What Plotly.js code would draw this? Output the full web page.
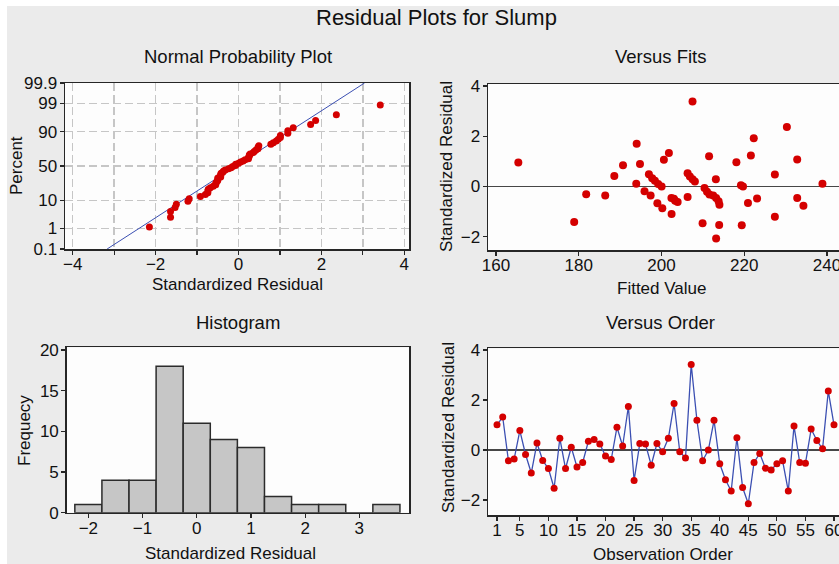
<!DOCTYPE html>
<html>
<head>
<meta charset="utf-8">
<script src="https://cdn.plot.ly/plotly-3.0.1.min.js"></script>
<style>html,body{margin:0;padding:0;overflow:hidden;background:#fff}#chart{width:839px;height:564px}</style>
</head>
<body>
<div id="chart"></div>
<script>
// ---- data ----
const observation = [1,2,3,4,5,6,7,8,9,10,11,12,13,14,15,16,17,18,19,20,
  21,22,23,24,25,26,27,28,29,30,31,32,33,34,35,36,37,38,39,40,
  41,42,43,44,45,46,47,48,49,50,51,52,53,54,55,56,57,58,59,60];
const residuals = [1.01,1.32,-0.43,-0.36,0.78,-0.18,-0.92,0.28,-0.42,-0.74,
  -1.53,0.47,-0.74,0.11,-0.68,-0.50,0.35,0.42,0.24,-0.24,
  -0.38,0.91,0.16,1.74,-1.22,0.26,0.24,-0.61,0.26,-0.07,
  0.47,1.86,-0.07,-0.32,3.42,1.19,-0.43,0.00,1.19,-0.55,
  -1.19,-1.64,0.49,-1.50,-2.15,-0.50,-0.14,-0.73,-0.80,-0.55,
  -0.43,-1.64,0.96,-0.50,-0.53,0.84,0.38,0.05,2.36,1.01];
const fittedValue = [165.4,178.9,181.8,186.4,188.6,190.7,194.0,193.9,194.8,195.9,
  196.96,197.75,198.41,199.2,200.03,197.37,199.0,200.2,200.58,201.79,
  202.44,202.4,203.0,203.3,203.9,206.31,206.31,206.86,207.51,208.07,
  211.5,210.4,211.0,211.6,212.5,213.2,213.8,214.0,213.14,209.93,
  213.94,218.1,219.2,219.7,207.5,213.2,219.4,220.9,221.6,222.3,
  223.1,227.4,227.4,230.3,232.8,232.8,234.3,238.9];
const fittedResidual = [0.95,-1.42,-0.31,-0.36,0.42,0.84,1.70,0.11,0.89,-0.19,
  0.49,0.33,0.23,0.10,0.00,-0.36,-0.67,-0.87,1.06,1.33,
  -1.10,-0.46,-0.49,-0.57,-0.62,-0.42,0.53,0.40,0.29,0.20,
  1.20,-0.06,-0.21,-0.32,-0.36,-0.46,-0.59,-0.73,0.29,-1.46,
  -1.53,0.96,0.05,0.00,3.38,-2.07,-1.54,-0.66,1.23,1.92,
  -0.48,0.48,-1.21,2.37,1.07,-0.46,-0.77,0.11];
const binCenters = [-2,-1.5,-1,-0.5,0,0.5,1,1.5,2,2.5,3,3.5];
const binCounts  = [1,4,4,18,11,9,8,2,1,1,0,1];
const nppFitX   = [-3.17, 3.04];
const nppFitPct = [0.1, 99.9];
const pctTicks    = [0.1,1,10,50,90,99,99.9];
const pctTickText = ['0.1','1','10','50','90','99','99.9'];
const nppXTicks    = [-4,-3,-2,-1,0,1,2,3,4];
const nppXTickText = ['\u22124','','\u22122','','0','','2','','4'];
const obsTicks = [1,5,10,15,20,25,30,35,40,45,50,55,60];

// ---- probability scale (inverse normal CDF, Acklam) ----
function probit(p){
  const a=[-3.969683028665376e+01,2.209460984245205e+02,-2.759285104469687e+02,1.383577518672690e+02,-3.066479806614716e+01,2.506628277459239e+00];
  const b=[-5.447609879822406e+01,1.615858368580409e+02,-1.556989798598866e+02,6.680131188771972e+01,-1.328068155288572e+01];
  const c=[-7.784894002430293e-03,-3.223964580411365e-01,-2.400758277161838e+00,-2.549732539343734e+00,4.374664141464968e+00,2.938163982698783e+00];
  const d=[7.784695709041462e-03,3.224671290700398e-01,2.445134137142996e+00,3.754408661907416e+00];
  const pl=0.02425, ph=1-pl; let q,r;
  if(p<pl){q=Math.sqrt(-2*Math.log(p));return (((((c[0]*q+c[1])*q+c[2])*q+c[3])*q+c[4])*q+c[5])/((((d[0]*q+d[1])*q+d[2])*q+d[3])*q+1);}
  if(p<=ph){q=p-0.5;r=q*q;return (((((a[0]*r+a[1])*r+a[2])*r+a[3])*r+a[4])*r+a[5])*q/(((((b[0]*r+b[1])*r+b[2])*r+b[3])*r+b[4])*r+1);}
  q=Math.sqrt(-2*Math.log(1-p));return -(((((c[0]*q+c[1])*q+c[2])*q+c[3])*q+c[4])*q+c[5])/((((d[0]*q+d[1])*q+d[2])*q+d[3])*q+1);
}
const pz = v => probit(v/100);
// normal probability plot points: sorted residuals vs median-rank percent
const nppX = residuals.slice().sort((a,b)=>a-b);
const n = nppX.length;
const nppZ = nppX.map((v,i)=>probit((i+1-0.3)/(n+0.4)));

// ---- layout helpers ----
const W=839, H=564;
const px = x => x/W, py = y => 1 - y/H;
const RED='#d40000', BLUE='#3b4fb2', FONT='"Liberation Sans", Arial, sans-serif';

const axBase = {
  showline:true, linecolor:'#262626', linewidth:1.5, ticks:'outside', ticklen:4,
  tickwidth:1.2, tickcolor:'#262626', showgrid:false, zeroline:false,
  ticklabeloverflow:'allow',
  tickfont:{family:FONT,size:17,color:'#111'}, fixedrange:true
};
const xBase = Object.assign({}, axBase, {ticklabelstandoff:-5});
const yBase = Object.assign({}, axBase, {ticklabelstandoff:-1});
const gridDash = {showgrid:true, gridcolor:'#c6c6c6', gridwidth:1.5, griddash:'8px,4px'};

const traces = [
  {type:'scatter', mode:'lines', x:nppFitX, y:nppFitPct.map(pz), xaxis:'x', yaxis:'y',
   line:{color:BLUE,width:1}, hoverinfo:'skip'},
  {type:'scatter', mode:'markers', x:nppX, y:nppZ, xaxis:'x', yaxis:'y',
   marker:{color:RED,size:7,symbol:'circle'}},
  {type:'scatter', mode:'markers', x:fittedValue, y:fittedResidual, xaxis:'x2', yaxis:'y2',
   marker:{color:RED,size:8,symbol:'circle'}},
  {type:'bar', x:binCenters, y:binCounts, width:0.5, xaxis:'x3', yaxis:'y3',
   marker:{color:'#c6c6c6', line:{color:'#2b2b2b', width:1.5}}},
  {type:'scatter', mode:'lines+markers', x:observation, y:residuals, xaxis:'x4', yaxis:'y4',
   line:{color:BLUE,width:1.3}, marker:{color:RED,size:7,symbol:'circle'}}
];

function ann(text,x,y,size,rot){
  return {text:text, x:px(x), y:py(y), xref:'paper', yref:'paper', showarrow:false,
    xanchor:'center', yanchor:'middle', textangle:rot||0,
    font:{family:FONT,size:size,color:'#111'}};
}

const layout = {
  width:W, height:H, margin:{l:0,r:0,t:0,b:0},
  paper_bgcolor:'#ebebeb', plot_bgcolor:'#fdfdfd', showlegend:false,
  font:{family:FONT,color:'#111'},
  xaxis: Object.assign({}, xBase, gridDash, {domain:[px(65),px(409)], range:[-4.186,4.113],
    tickvals:nppXTicks, ticktext:nppXTickText, mirror:true, anchor:'y'}),
  yaxis: Object.assign({}, yBase, gridDash, {domain:[py(249),py(83)], range:[pz(0.1),pz(99.9)],
    tickvals:pctTicks.map(pz), ticktext:pctTickText, mirror:true, anchor:'x'}),
  xaxis2: Object.assign({}, xBase, {domain:[px(488),1], range:[158.07,242.9],
    tickvals:[160,180,200,220,240], mirror:true, anchor:'y2'}),
  yaxis2: Object.assign({}, yBase, {domain:[py(250),py(84)], range:[-2.53,4.08],
    tickvals:[-2,0,2,4], ticktext:['\u22122','0','2','4'], mirror:false, anchor:'x2',
    zeroline:true, zerolinecolor:'#474747', zerolinewidth:1.5}),
  xaxis3: Object.assign({}, xBase, {domain:[px(66.7),px(409)], range:[-2.40,3.917],
    tickvals:[-2,-1,0,1,2,3], ticktext:['\u22122','\u22121','0','1','2','3'], mirror:true, anchor:'y3'}),
  yaxis3: Object.assign({}, yBase, {domain:[py(512.7),py(347.3)], range:[0,20.33],
    tickvals:[0,5,10,15,20], mirror:true, anchor:'x3'}),
  xaxis4: Object.assign({}, xBase, {domain:[px(488),1], range:[-0.576,60.875],
    tickvals:obsTicks, mirror:true, anchor:'y4'}),
  yaxis4: Object.assign({}, yBase, {domain:[py(515),py(348.3)], range:[-2.6,4.07],
    tickvals:[-2,0,2,4], ticktext:['\u22122','0','2','4'], mirror:false, anchor:'x4',
    zeroline:true, zerolinecolor:'#474747', zerolinewidth:1.5}),
  annotations: [
    ann('Residual Plots for Slump',436,18,22),
    ann('Normal Probability Plot',238,56,18.5),
    ann('Versus Fits',661,56,18.5),
    ann('Histogram',238,322,18.5),
    ann('Versus Order',660,322,18.5),
    ann('Standardized Residual',237,284,17),
    ann('Percent',16,166,17,-90),
    ann('Fitted Value',661,288,17),
    ann('Standardized Residual',446,167,17,-90),
    ann('Standardized Residual',230,553,17),
    ann('Frequecy',24,431,17,-90),
    ann('Observation Order',663,554,17),
    ann('Standardized Residual',448,428,17,-90)
  ],
  shapes: [
    {type:'rect', xref:'paper', yref:'paper', x0:0, x1:px(7), y0:0, y1:1, fillcolor:'#ffffff', line:{width:0}, layer:'above'},
    {type:'rect', xref:'paper', yref:'paper', x0:0, x1:1, y0:py(6), y1:1, fillcolor:'#ffffff', line:{width:0}, layer:'above'}
  ]
};

Plotly.newPlot('chart', traces, layout, {displayModeBar:false, staticPlot:true});
</script>
</body>
</html>
